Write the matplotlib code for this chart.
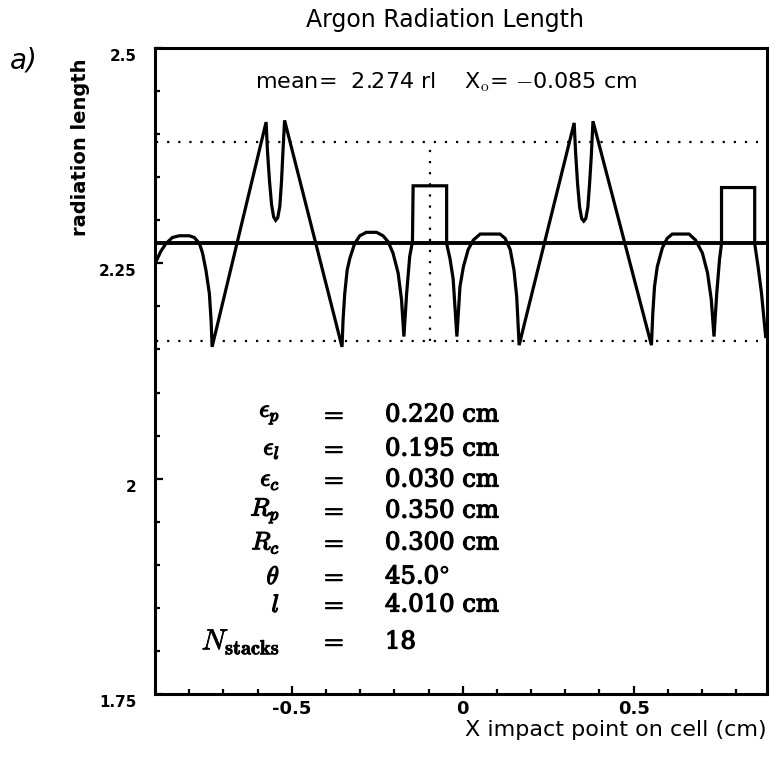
import matplotlib
matplotlib.use('Agg')
import matplotlib.pyplot as plt
import matplotlib.patheffects as pe
from matplotlib.transforms import ScaledTranslation

# radiation length vs impact point
curve_x = [-0.902, -0.897, -0.883, -0.868, -0.849, -0.829, -0.800, -0.785, -0.770, -0.761,
           -0.751, -0.741, -0.736, -0.733, -0.575, -0.571, -0.565, -0.559, -0.553, -0.547,
           -0.541, -0.535, -0.530, -0.526, -0.521, -0.353, -0.350, -0.345, -0.338, -0.330,
           -0.316, -0.301, -0.282, -0.252, -0.233, -0.218, -0.204, -0.189, -0.179, -0.172,
           -0.164, -0.155, -0.147, -0.145, -0.047, -0.047, -0.037, -0.028, -0.017, -0.008,
           0.002, 0.016, 0.031, 0.051, 0.109, 0.124, 0.139, 0.150, 0.158, 0.165,
           0.326, 0.330, 0.336, 0.342, 0.348, 0.354, 0.360, 0.366, 0.371, 0.376,
           0.381, 0.552, 0.556, 0.561, 0.569, 0.584, 0.598, 0.613, 0.662, 0.681,
           0.701, 0.716, 0.727, 0.735, 0.743, 0.751, 0.757, 0.757, 0.854, 0.854,
           0.864, 0.874, 0.886]
curve_y = [2.250, 2.252, 2.264, 2.273, 2.280, 2.282, 2.282, 2.280, 2.273, 2.262,
           2.242, 2.215, 2.184, 2.153, 2.414, 2.380, 2.345, 2.318, 2.304, 2.300,
           2.303, 2.316, 2.345, 2.378, 2.416, 2.153, 2.184, 2.215, 2.242, 2.256,
           2.273, 2.282, 2.286, 2.286, 2.282, 2.275, 2.262, 2.239, 2.208, 2.165,
           2.215, 2.258, 2.275, 2.340, 2.340, 2.273, 2.255, 2.232, 2.165, 2.223,
           2.246, 2.266, 2.277, 2.284, 2.284, 2.279, 2.266, 2.242, 2.211, 2.155,
           2.413, 2.380, 2.342, 2.315, 2.302, 2.299, 2.302, 2.315, 2.342, 2.374,
           2.415, 2.155, 2.192, 2.223, 2.246, 2.268, 2.279, 2.284, 2.284, 2.277,
           2.262, 2.239, 2.208, 2.165, 2.215, 2.254, 2.273, 2.338, 2.338, 2.273,
           2.246, 2.215, 2.165]

mean_rl = 2.274
x0 = -0.096
band_hi = 2.391
band_lo = 2.160

param_names = [r'$\epsilon_p$', r'$\epsilon_l$', r'$\epsilon_c$', r'$R_p$', r'$R_c$',
               r'$\theta$', r'$l$']
param_values = ['0.220 cm', '0.195 cm', '0.030 cm', '0.350 cm', '0.300 cm',
                r'45.0$^{\circ}$', '4.010 cm', '18']
param_rows_px = [415, 449, 480, 511, 543, 577, 605, 642]

plt.rcParams['mathtext.fontset'] = 'cm'

W, H = 772, 758
fig = plt.figure(figsize=(W / 100, H / 100), dpi=100)
ax = fig.add_axes([155 / W, 1 - 694 / H, 612 / W, 646 / H])

ax.plot(curve_x, curve_y, color='black', lw=2.3, solid_joinstyle='miter')
ax.axhline(mean_rl, color='black', lw=2.8)
dots = (0, (1, 4))
ax.plot([-0.898, 0.865], [band_hi, band_hi], color='black', lw=1.6, linestyle=dots)
ax.plot([-0.898, 0.865], [band_lo, band_lo], color='black', lw=1.6, linestyle=dots)
ax.plot([x0, x0], [band_lo, band_hi], color='black', lw=1.6, linestyle=dots)

ax.set_xlim(-0.9, 0.89)
ax.set_ylim(1.75, 2.5)

ax.set_xticks([-0.5, 0, 0.5])
ax.set_xticklabels(['-0.5', '0', '0.5'])
ax.set_xticks([-0.8, -0.7, -0.6, -0.4, -0.3, -0.2, -0.1, 0.1, 0.2, 0.3, 0.4, 0.6, 0.7, 0.8],
              minor=True)
ax.set_yticks([1.75, 2.0, 2.25, 2.5])
ax.set_yticklabels(['1.75', '2', '2.25', '2.5'])
ax.set_yticks([1.8, 1.85, 1.9, 1.95, 2.05, 2.1, 2.15, 2.2, 2.3, 2.35, 2.4, 2.45], minor=True)

ax.tick_params(which='both', direction='in', width=1.6, top=False, right=False)
ax.tick_params(which='major', length=6)
ax.tick_params(which='minor', length=3.5)
ax.tick_params(axis='y', labelsize=11, pad=13)
ax.tick_params(axis='x', labelsize=13, pad=4.5)
for lab in ax.get_yticklabels():
    lab.set_fontweight('bold')
    lab.set_transform(lab.get_transform() + ScaledTranslation(0, -5 / 72, fig.dpi_scale_trans))
for lab in ax.get_xticklabels():
    lab.set_fontweight('bold')

for sp in ax.spines.values():
    sp.set_linewidth(2.2)

fig.text(445 / W, 1 - 20 / H, 'Argon Radiation Length', ha='center', va='center', fontsize=17)
fig.text(24 / W, 1 - 61 / H, 'a)', ha='center', va='center', fontsize=20, style='italic')
fig.text(81 / W, 1 - 147 / H, 'radiation length', ha='center', va='center',
         rotation=90, fontsize=14, fontweight='bold')
fig.text(767 / W, 1 - 736 / H, 'X impact point on cell (cm)', ha='right', va='baseline',
         fontsize=16)
fig.text(446 / W, 1 - 82 / H, r'mean=  2.274 rl    X$_\mathrm{o}$= $-$0.085 cm',
         ha='center', va='center', fontsize=16)

thick = [pe.withStroke(linewidth=0.9, foreground='black')]
for name, ypx in zip(param_names, param_rows_px):
    fig.text(280 / W, 1 - ypx / H, name, ha='right', va='center', fontsize=18,
             path_effects=thick)
fig.text(280 / W, 1 - param_rows_px[-1] / H, r'$N_{\mathbf{stacks}}$', ha='right',
         va='center', fontsize=21, path_effects=[pe.withStroke(linewidth=0.5, foreground='black')])
for val, ypx in zip(param_values, param_rows_px):
    yy = 1 - ypx / H
    fig.text(332 / W, yy, r'$=$', ha='center', va='center', fontsize=18, path_effects=thick)
    fig.text(385 / W, yy, val, ha='left', va='center', fontsize=17.5, family='serif',
             math_fontfamily='cm', path_effects=thick)

fig.savefig('out.png', dpi=100)
